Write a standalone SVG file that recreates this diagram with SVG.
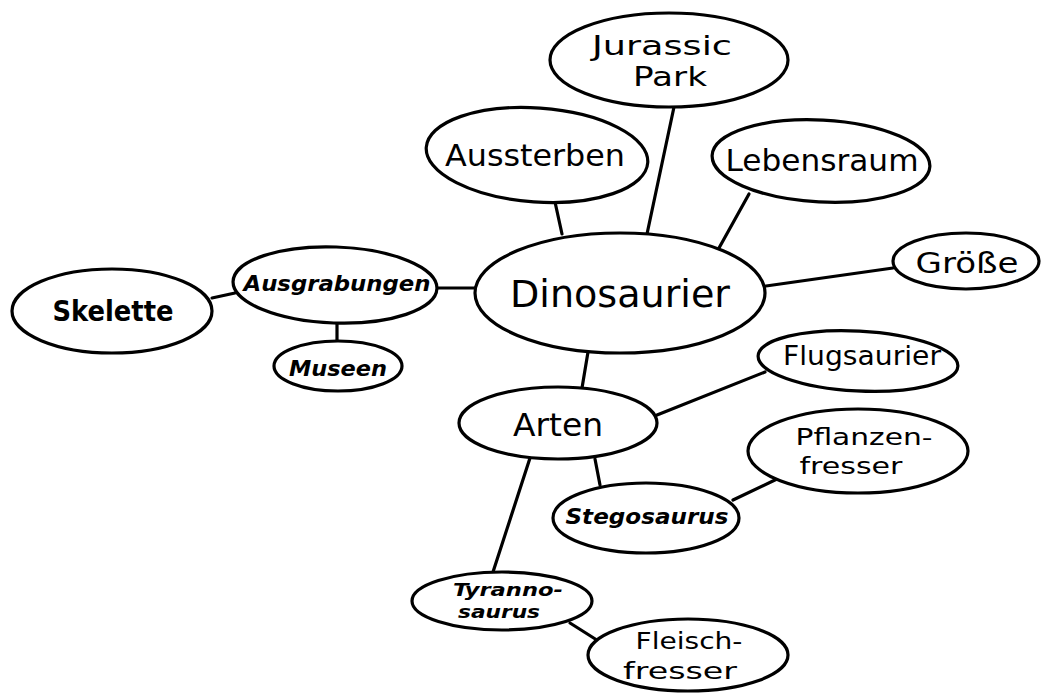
<svg xmlns="http://www.w3.org/2000/svg" width="1044" height="693" viewBox="0 0 1044 693">
<style>
.n{fill:#fff;stroke:#000;stroke-width:3.2}
.c line{stroke:#000;stroke-width:3.2;stroke-linecap:round}
text{font-family:"DejaVu Sans","Noto Sans",sans-serif;fill:#000;text-anchor:middle;dominant-baseline:central}
.i{font-style:italic;font-weight:bold}
</style>
<rect width="1044" height="693" fill="#fff"/>
<g class="c" id="connectors">
<line x1="555" y1="202" x2="562" y2="234"/>
<line x1="674" y1="107" x2="647" y2="234"/>
<line x1="749" y1="194" x2="719" y2="248"/>
<line x1="893" y1="268" x2="766" y2="286"/>
<line x1="437" y1="288" x2="476" y2="288"/>
<line x1="212" y1="298" x2="235" y2="293"/>
<line x1="337" y1="323" x2="337" y2="341"/>
<line x1="588" y1="352" x2="582" y2="388"/>
<line x1="657" y1="415" x2="765" y2="372"/>
<line x1="595" y1="459" x2="600" y2="485"/>
<line x1="530" y1="458" x2="493" y2="572"/>
<line x1="733" y1="500" x2="777" y2="479"/>
<line x1="570" y1="623" x2="600" y2="642"/>
</g>
<g id="jurassic"><ellipse class="n" cx="669" cy="60" rx="119" ry="47"/><text x="662" y="46" font-size="26" textLength="140" lengthAdjust="spacingAndGlyphs">Jurassic</text><text x="670" y="77" font-size="26" textLength="74" lengthAdjust="spacingAndGlyphs">Park</text></g>
<g id="aussterben"><ellipse class="n" cx="537" cy="155" rx="111" ry="47" transform="rotate(4 537 155)"/><text x="535" y="155" font-size="30" textLength="180" lengthAdjust="spacingAndGlyphs">Aussterben</text></g>
<g id="lebensraum"><ellipse class="n" cx="821" cy="161" rx="109" ry="41" transform="rotate(3 821 161)"/><text x="822" y="160" font-size="30" textLength="193" lengthAdjust="spacingAndGlyphs">Lebensraum</text></g>
<g id="groesse"><ellipse class="n" cx="966" cy="261" rx="73" ry="28"/><text x="967" y="263" font-size="28" textLength="103" lengthAdjust="spacingAndGlyphs">Größe</text></g>
<g id="dinosaurier"><ellipse class="n" cx="620" cy="293" rx="145" ry="60"/><text x="620" y="294" font-size="37" textLength="220" lengthAdjust="spacingAndGlyphs">Dinosaurier</text></g>
<g id="ausgrabungen"><ellipse class="n" cx="335" cy="285" rx="102" ry="38" transform="rotate(2 335 285)"/><text class="i" x="337" y="283" font-size="22" textLength="187" lengthAdjust="spacingAndGlyphs">Ausgrabungen</text></g>
<g id="skelette"><ellipse class="n" cx="112" cy="311" rx="100" ry="42"/><text x="113" y="311" font-size="28" font-weight="bold" textLength="121" lengthAdjust="spacingAndGlyphs">Skelette</text></g>
<g id="museen"><ellipse class="n" cx="338" cy="366" rx="64" ry="25"/><text class="i" x="338" y="368" font-size="22" textLength="98" lengthAdjust="spacingAndGlyphs">Museen</text></g>
<g id="arten"><ellipse class="n" cx="558" cy="423" rx="99" ry="36"/><text x="558" y="425" font-size="32" textLength="90" lengthAdjust="spacingAndGlyphs">Arten</text></g>
<g id="flugsaurier"><ellipse class="n" cx="858" cy="361" rx="100" ry="30" transform="rotate(3 858 361)"/><text x="862" y="356" font-size="26" textLength="158" lengthAdjust="spacingAndGlyphs">Flugsaurier</text></g>
<g id="pflanzenfresser"><ellipse class="n" cx="858" cy="451" rx="110" ry="42"/><text x="864" y="437" font-size="23" textLength="137" lengthAdjust="spacingAndGlyphs">Pflanzen-</text><text x="851" y="466" font-size="23" textLength="103" lengthAdjust="spacingAndGlyphs">fresser</text></g>
<g id="stegosaurus"><ellipse class="n" cx="646" cy="518" rx="93" ry="35"/><text class="i" x="647" y="516" font-size="22" textLength="163" lengthAdjust="spacingAndGlyphs">Stegosaurus</text></g>
<g id="tyrannosaurus"><ellipse class="n" cx="502" cy="601" rx="90" ry="29"/><text class="i" x="508" y="589" font-size="18" textLength="110" lengthAdjust="spacingAndGlyphs">Tyranno-</text><text class="i" x="499" y="611" font-size="18" textLength="82" lengthAdjust="spacingAndGlyphs">saurus</text></g>
<g id="fleischfresser"><ellipse class="n" cx="688" cy="655" rx="100" ry="36"/><text x="689" y="641" font-size="23" textLength="107" lengthAdjust="spacingAndGlyphs">Fleisch-</text><text x="680" y="671" font-size="23" textLength="114" lengthAdjust="spacingAndGlyphs">fresser</text></g>
</svg>
